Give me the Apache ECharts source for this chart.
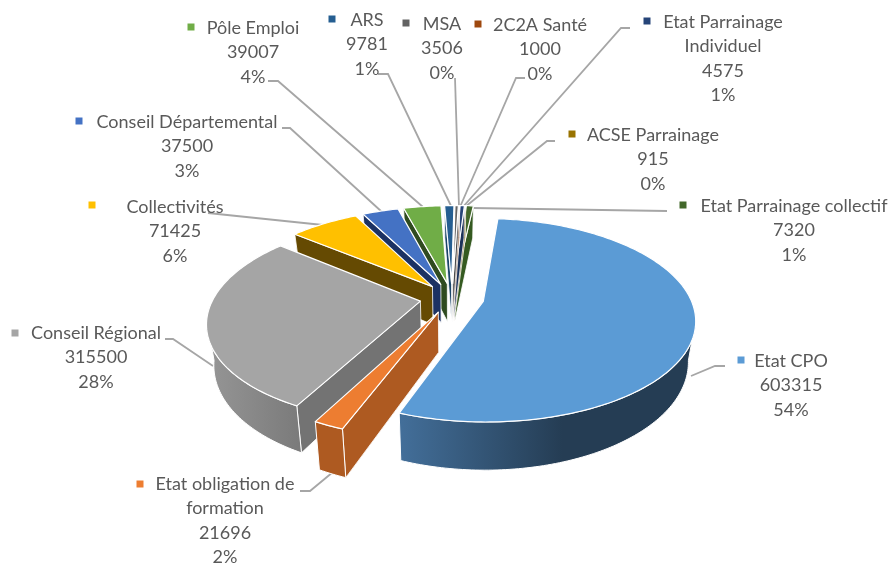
<!DOCTYPE html>
<html>
<head>
<meta charset="utf-8">
<title>Financement</title>
<script src="https://cdn.jsdelivr.net/npm/echarts@6/dist/echarts.min.js"></script>
<style>
	html,body{margin:0;padding:0;background:#fff;}
	#chart{width:890px;height:564px;}
</style>
</head>
<body>
<div id="chart"></div>
<script>
// data, clockwise from the top
var names = ['Etat CPO','Etat obligation de\nformation','Conseil Régional','Collectivités','Conseil Départemental','Pôle Emploi','ARS','MSA','2C2A Santé','Etat Parrainage\nIndividuel','ACSE Parrainage','Etat Parrainage collectif'];
var values = [603315,21696,315500,71425,37500,39007,9781,3506,1000,4575,915,7320];
var percents = ['54%','2%','28%','6%','3%','4%','1%','0%','0%','1%','0%','1%'];

// colours
var topColors = ['#5b9bd5','#ed7d31','#a5a5a5','#ffc000','#4472c4','#70ad47','#255e91','#636363','#9e480e','#264478','#997300','#43682b'];
var sideColors = ['#2a4a68','#ae5a21','#737373','#654a02','#1c3263','#2f4b20','#1b4568','#4a4a4a','#74350a','#1c3259','#705400','#355a21'];
var wallStops = {
	0:[[0,'#436f9a'],[0.55,'#253d54'],[1,'#253d54']],
	2:[[0,'#969696'],[1,'#7a7a7a']]
};

// label layout: text centre x, first line centre y, legend key x, key y
var labelBox = [
	[791,361,741,360],[225,484,140,484],[96,333,15,333],[175,207,92,205],
	[187,122,79,121],[253,28,191,27],[367,20,332,19],[442,24,406,23],
	[540,25,478,24],[723,22,647,21],[653,135,572,134],[794,206,683,205]
];
var leaderLines = [
	[[725,366],[715,366],[691,376]],
	[[300,491],[310,491],[333,472]],
	[[165,339],[173,339],[213,366]],
	[[208,213],[323,225]],
	[[282,128],[290,128],[382,212]],
	[[268,81],[278,81],[423,207]],
	[[378,74],[388,74],[452,208]],
	[[455,78],[459,207]],
	[[525,78],[516,78],[460,207]],
	[[630,28],[621,28],[462,208]],
	[[555,141],[547,141],[465,207]],
	[[667,211],[472,208]]
];

// 3d pie settings, fitted on the picture
var cx = 452, cy = 298;
var radius = 207, explode = 32;
var tilt = 0.469, persp = 0.184 / 207, skew = 0.017;
var depth = 39, shrink = 0.03;
var firstAngle = 5.4;

var total = 0;
for(var i=0;i<values.length;i++){
	total += values[i];
}
var slices = [];
var angle = firstAngle;
for(var i=0;i<values.length;i++){
	var end = angle + values[i] / total * 360;
	slices.push({a0:angle,a1:end});
	angle = end;
}

function rad(a){
	return a * Math.PI / 180;
}
// x goes right, z goes to the back of the pie, t=0 top face, t=1 bottom face
function project(x,z,t){
	var d = 1 + persp * z;
	return [cx + (x + skew * z) / d * (1 - shrink * t), cy - tilt * z / d + t * depth / d];
}
function rimPoint(s,a,t){
	var m = rad((s.a0 + s.a1) / 2);
	return project(explode * Math.sin(m) + radius * Math.sin(rad(a)), explode * Math.cos(m) + radius * Math.cos(rad(a)), t);
}
function apexPoint(s,t){
	var m = rad((s.a0 + s.a1) / 2);
	return project(explode * Math.sin(m), explode * Math.cos(m), t);
}
function arcPoints(s,a0,a1,t){
	var pts = [];
	var n = Math.max(1,Math.ceil(a1 - a0));
	for(var k=0;k<=n;k++){
		pts.push(rimPoint(s,a0 + (a1 - a0) * k / n,t));
	}
	return pts;
}
function edgeWall(s,a,color,z){
	return {
		type:'polygon',
		z2:z,
		shape:{points:[apexPoint(s,0),rimPoint(s,a,0),rimPoint(s,a,1),apexPoint(s,1)]},
		style:{fill:color,stroke:'#fff',lineWidth:0.8,opacity:1}
	};
}

function renderSlice(params,api){
	var i = params.dataIndex;
	var s = slices[i];
	var order = (values.length - i) * 10;
	var kids = [];
	// radial faces that look at the viewer
	if(Math.sin(rad(s.a0)) < 0){
		kids.push(edgeWall(s,s.a0,sideColors[i],order));
	}
	if(Math.sin(rad(s.a1)) > 0){
		kids.push(edgeWall(s,s.a1,sideColors[i],order));
	}
	// outer wall, front part only
	var f0 = Math.max(s.a0,100.6), f1 = Math.min(s.a1,259.4);
	if(f1 > f0){
		var up = arcPoints(s,f0,f1,0);
		var down = arcPoints(s,f0,f1,1).reverse();
		var fill = sideColors[i];
		if(wallStops[i]){
			var st = [];
			for(var k=0;k<wallStops[i].length;k++){
				st.push({offset:wallStops[i][k][0],color:wallStops[i][k][1]});
			}
			fill = new echarts.graphic.LinearGradient(0,0,1,0,st);
		}
		kids.push({
			type:'polygon',
			z2:order + 1,
			shape:{points:up.concat(down)},
			style:{fill:fill,stroke:'#fff',lineWidth:1}
		});
	}
	// top face
	kids.push({
		type:'polygon',
		z2:order + 2,
		shape:{points:[apexPoint(s,0)].concat(arcPoints(s,s.a0,s.a1,0))},
		style:{fill:api.visual('color'),stroke:'#fff',lineWidth:1.2,lineJoin:'round'}
	});
	return {type:'group',children:kids};
}

function renderLabel(params,api){
	var i = params.dataIndex;
	var box = labelBox[i];
	return {
		type:'group',
		children:[
			{
				type:'polyline',
				shape:{points:leaderLines[i]},
				style:{fill:null,stroke:'#a6a6a6',lineWidth:1.8}
			},
			{
				type:'rect',
				shape:{x:box[2] - 3.5,y:box[3] - 3.5,width:7,height:7},
				style:{fill:topColors[i]}
			},
			{
				type:'text',
				style:{
					text:names[i] + '\n' + api.value(0) + '\n' + percents[i],
					x:box[0],
					y:box[1] - 12,
					align:'center',
					verticalAlign:'top',
					fill:'#595959',
					font:'18px Lato',
					lineHeight:24.4
				}
			}
		]
	};
}

var seriesData = [];
for(var i=0;i<values.length;i++){
	seriesData.push({value:[values[i]],name:names[i],itemStyle:{color:topColors[i]}});
}

var myChart = echarts.init(document.getElementById('chart'));
myChart.setOption({
	animation:false,
	backgroundColor:'#fff',
	series:[
		{
			type:'custom',
			coordinateSystem:'none',
			renderItem:renderLabel,
			z:1,
			silent:true,
			data:seriesData
		},
		{
			type:'custom',
			coordinateSystem:'none',
			renderItem:renderSlice,
			z:2,
			silent:true,
			data:seriesData
		}
	]
});
</script>
</body>
</html>
